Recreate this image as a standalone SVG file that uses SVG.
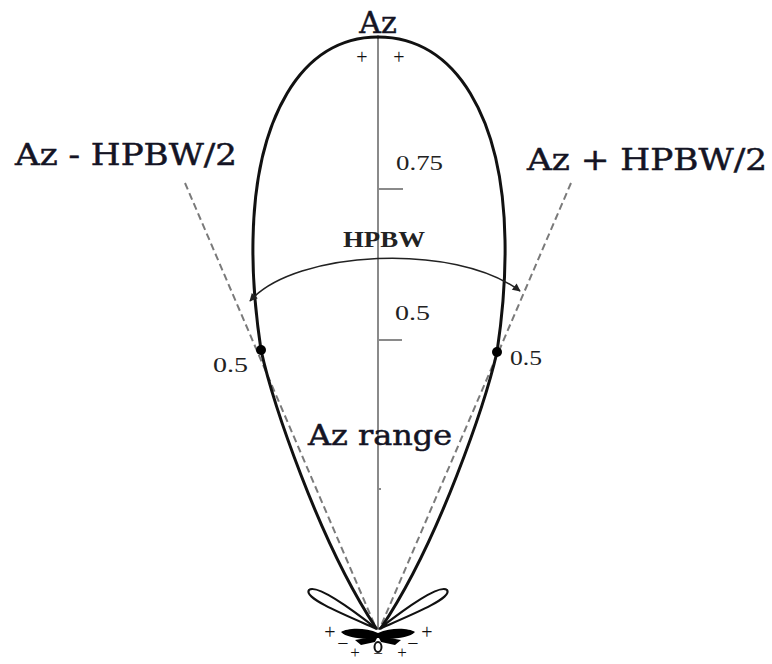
<svg xmlns="http://www.w3.org/2000/svg" width="772" height="664" viewBox="0 0 772 664">
<defs>
<style>
.lobe{fill:none;stroke:#111;stroke-width:3;stroke-linecap:round;stroke-linejoin:round}
.side{fill:none;stroke:#111;stroke-width:2.2}
.axis{stroke:#8a8a8a;stroke-width:2;fill:none}
.dash{stroke:#7a7a7a;stroke-width:2;stroke-dasharray:7 4;fill:none}
.arc{stroke:#222;stroke-width:1.6;fill:none}
.lbl{font-family:"DejaVu Serif","Liberation Serif",serif;fill:#141424;stroke:#141424;stroke-width:0.5}
.num{font-family:"Liberation Serif","Times New Roman",serif;fill:#222}
.sign{font-family:"Liberation Serif",serif;font-size:20px;fill:#111;text-anchor:middle}
.sm{font-size:17px}
</style>
<marker id="ah" viewBox="0 0 10 10" refX="9" refY="5" markerWidth="10" markerHeight="8" markerUnits="userSpaceOnUse" orient="auto-start-reverse">
<path d="M0,0 L10,5 L0,10 Z" fill="#222"/>
</marker>
</defs>
<rect width="772" height="664" fill="#fff"/>

<g id="guides">
<line class="dash" x1="185" y1="183" x2="376" y2="628"/>
<line class="dash" x1="571" y1="183" x2="380" y2="628"/>
</g>

<g id="axis">
<line class="axis" x1="378" y1="37" x2="378" y2="630"/>
<line class="axis" x1="378" y1="189" x2="403" y2="189"/>
<line class="axis" x1="378" y1="340" x2="402" y2="340"/>
<line class="axis" x1="378" y1="489" x2="381" y2="489"/>
</g>

<g id="main-lobe">
<path class="lobe" d="M378,37 C300,37 255,120 253,240 C252,290 258,330 261,350 C272,400 318,540 376,628"/>
<path class="lobe" d="M378,37 C457,37 503,120 505,240 C506,290 500,332 497,352 C486,400 440,540 381,628"/>
<circle cx="261" cy="350" r="5" fill="#000"/>
<circle cx="497" cy="352" r="5" fill="#000"/>
</g>

<g id="side-lobes">
<path class="side" d="M377,629 C345,604 316,584 309,590 C303,598 345,615 377,629 Z"/>
<path class="side" d="M379,629 C411,604 440,584 447,590 C453,598 411,615 379,629 Z"/>
<path d="M378,633 C365,627 347,628 341,632 C346,638 365,640 378,638 Z" fill="#000"/>
<path d="M378,633 C391,627 409,628 415,632 C410,638 391,640 378,638 Z" fill="#000"/>
<path d="M378,636 L355,640 L361,645 L375,642 Z" fill="#000"/>
<path d="M378,636 L401,640 L395,645 L381,642 Z" fill="#000"/>
<ellipse cx="378" cy="647" rx="3.5" ry="5" fill="none" stroke="#111" stroke-width="2"/>
</g>

<g id="hpbw-arc">
<path class="arc" d="M250,301 C295,250 455,242 520,291" marker-start="url(#ah)" marker-end="url(#ah)"/>
</g>

<g id="signs">
<text class="sign" x="362" y="64">+</text>
<text class="sign" x="399" y="64">+</text>
<text class="sign" x="330" y="639">+</text>
<text class="sign" x="427" y="639">+</text>
<text class="sign" x="343" y="650">−</text>
<text class="sign" x="413" y="650">−</text>
<text class="sign sm" x="355" y="658">+</text>
<text class="sign sm" x="402" y="658">+</text>
<text class="sign sm" x="378" y="659">−</text>
</g>

<g id="labels">
<text class="lbl" x="378" y="33" font-size="30" text-anchor="middle">Az</text>
<text class="lbl" x="15" y="165" font-size="30" textLength="222" lengthAdjust="spacingAndGlyphs">Az - HPBW/2</text>
<text class="lbl" x="527" y="170" font-size="30" textLength="240" lengthAdjust="spacingAndGlyphs">Az + HPBW/2</text>
<text class="lbl" x="308" y="445" font-size="28" textLength="144" lengthAdjust="spacingAndGlyphs">Az range</text>
<text class="num" x="343" y="247" font-size="23" font-weight="bold" textLength="82" lengthAdjust="spacingAndGlyphs">HPBW</text>
<text class="num" x="396" y="170" font-size="22" textLength="47" lengthAdjust="spacingAndGlyphs">0.75</text>
<text class="num" x="395" y="320" font-size="21" textLength="35" lengthAdjust="spacingAndGlyphs">0.5</text>
<text class="num" x="213" y="372" font-size="21" textLength="35" lengthAdjust="spacingAndGlyphs">0.5</text>
<text class="num" x="510" y="365" font-size="21" textLength="32" lengthAdjust="spacingAndGlyphs">0.5</text>
</g>
</svg>
